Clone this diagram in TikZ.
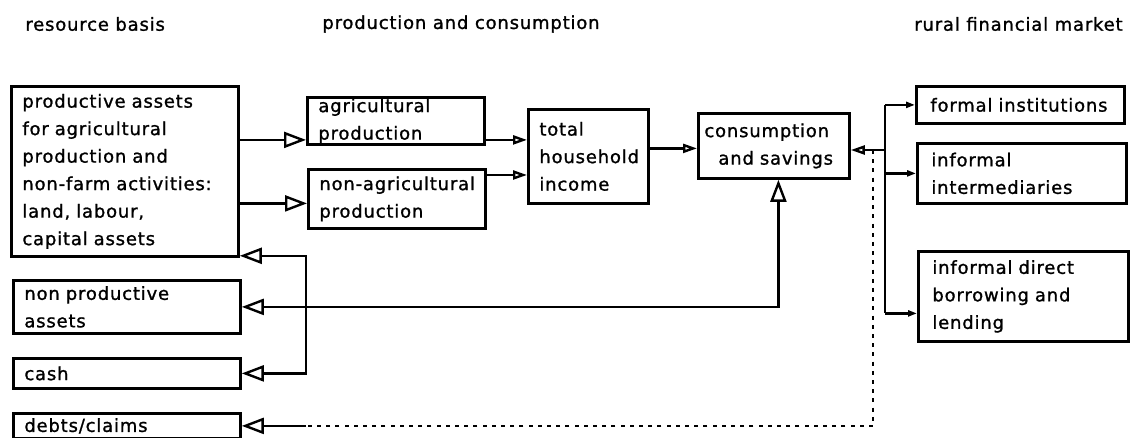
\documentclass[tikz,border=0pt]{standalone}
\usepackage{fontspec}
\setmainfont{DejaVu Sans}[LetterSpace=4.5, FakeBold=1.2]
\usetikzlibrary{arrows.meta,positioning,calc}
\tikzset{
    basis/.style={
        draw,
        line width=1.4pt,
        anchor=north west,
        align=left,
        inner xsep=5.5pt,
        inner ysep=0pt,
        font=\fontsize{9pt}{13.75pt}\selectfont
    },
    heading/.style={font=\fontsize{9pt}{11pt}\selectfont, inner sep=0pt},
    % Connectors
    link/.style={line width=1.2pt},
    dotlink/.style={line width=1.4pt, dash pattern=on 2pt off 2.6pt},
    bigarrow/.style={link, -{Triangle[open, length=11pt, width=8pt]}},
    bigboth/.style={link, {Triangle[open, length=11pt, width=8pt]}-{Triangle[open, length=11pt, width=8pt]}},
    smallarrow/.style={link, -{Triangle[open, length=7pt, width=4.5pt]}},
    tinyarrow/.style={link, -{Triangle[open, length=4.5pt, width=3pt]}}
}
\begin{document}
\begin{tikzpicture}[x=0.5pt, y=-0.5pt]
\useasboundingbox (0,0) rectangle (1130,438);

% column headings
\node[heading, anchor=west] (hres) at (25,24) {resource basis};
\node[heading, anchor=west] (hprod) at (322,24) {production and consumption};
\node[heading, anchor=east] (hmarket) at (1123,24) {rural financial market};

% resource basis
\node[basis, text width=102.5pt, minimum height=85pt] (prod) at (10,85)
    {productive assets\\for agricultural\\production and\\non-farm activities:\\land, labour,\\capital assets};
\node[basis, text width=102.5pt, minimum height=26.5pt] (nonprod) at (12,279) {non productive\\assets};
\node[basis, text width=102.5pt, minimum height=15pt] (cash) at (12,357) {cash};
\node[basis, text width=102.5pt, minimum height=12.5pt] (debts) at (12,412) {debts/claims};

% production and consumption
\node[basis, text width=77.5pt, minimum height=23.5pt] (agr) at (306,96) {agricultural\\production};
\node[basis, text width=77.5pt, minimum height=29.5pt] (nonagr) at (307,168) {non-agricultural\\production};
\node[basis, text width=49pt, minimum height=47pt] (income) at (527,108) {total\\household\\income};
\node[basis, text width=69.5pt, minimum height=32.5pt, inner xsep=3pt] (cons) at (697,112)
    {consumption\\\hspace*{7pt}and savings};

% rural financial market
\node[basis, text width=90pt, minimum height=18.5pt, inner xsep=7pt] (formal) at (915,85) {formal institutions};
\node[basis, text width=90.5pt, minimum height=30pt, inner xsep=7pt] (intermed) at (916,142) {informal\\intermediaries};
\node[basis, text width=91pt, minimum height=45pt, inner xsep=7pt] (direct) at (917,250)
    {informal direct\\borrowing and\\lending};

% helper points
\coordinate (ain) at ([yshift=-9.5pt]agr.west);
\coordinate (nin) at ([yshift=-2.25pt]nonagr.west);
\coordinate (nout) at ([yshift=-3.5pt]nonagr.north east);
\coordinate (back) at ([yshift=1pt]prod.south east);
\coordinate (jl) at (agr.west |- nonprod.east);
\coordinate (cup) at ([xshift=2.25pt]cons.south);
\coordinate (jr) at (885,150);
\coordinate (jd) at (873,150);
\coordinate (dsolid) at (jl |- debts.east);
\coordinate (dout) at ([yshift=-8.5pt]direct.west);

% production flows
\draw[bigarrow] (ain -| prod.east) -- (ain);
\draw[bigarrow] (nin -| prod.east) -- (nin);
\draw[smallarrow] (ain -| agr.east) -- (ain -| income.west);
\draw[smallarrow] (nout) -- (nout -| income.west);
\draw[smallarrow] ([yshift=4pt]income.east) -- ([yshift=4pt]income.east -| cons.west);

% savings back to assets
\draw[bigboth] (nonprod.east) -| (cup);
\draw[bigarrow] (jl) |- (back);
\draw[bigarrow] (jl) |- (cash.east);

% financial market
\draw[smallarrow] (jr) -- (jr -| cons.east);
\draw[link] (jr |- formal.west) -- (jr |- dout);
\draw[tinyarrow] (jr |- formal.west) -- (formal.west);
\draw[tinyarrow] (jr |- intermed.west) -- (intermed.west);
\draw[tinyarrow] (jr |- dout) -- (dout);
\draw[dotlink] (jd) |- (dsolid);
\draw[bigarrow] (dsolid) -- (debts.east);
\end{tikzpicture}
\end{document}
